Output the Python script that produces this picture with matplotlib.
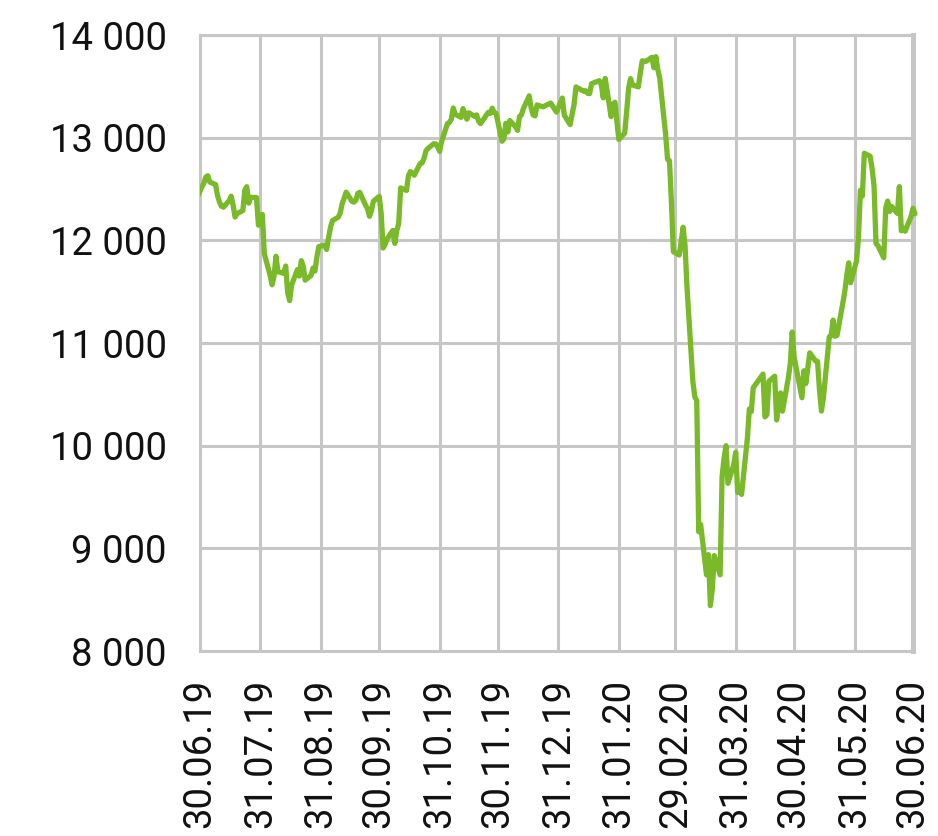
import matplotlib
matplotlib.use("Agg")
import matplotlib.pyplot as plt
import matplotlib.dates as mdates
import matplotlib.transforms as mtransforms
import pandas as pd

# ---- data (index closes) ----
jun19 = [12399]
jul19 = [12521, 12558, 12616, 12629, 12568, 12543, 12436, 12373, 12332, 12323,
         12387, 12430, 12341, 12227, 12260, 12290, 12490, 12522, 12362, 12419,
         12417, 12147, 12189]
aug19 = [12253, 11872, 11658, 11567, 11650, 11845, 11694, 11679, 11750, 11492,
         11412, 11563, 11715, 11652, 11802, 11747, 11612, 11658, 11730, 11701,
         11838, 11939]
sep19 = [11953, 11911, 12025, 12127, 12192, 12226, 12268, 12359, 12410, 12469,
         12380, 12372, 12389, 12457, 12468, 12342, 12307, 12234, 12288, 12381,
         12428]
oct19 = [12263, 11925, 11960, 12012, 12097, 11970, 12094, 12164, 12511, 12486,
         12630, 12670, 12654, 12634, 12748, 12754, 12798, 12872, 12895, 12941,
         12939, 12910, 12867]
nov19 = [12961, 13136, 13148, 13179, 13289, 13228, 13198, 13283, 13230, 13180,
         13242, 13207, 13221, 13159, 13137, 13164, 13247, 13237, 13287, 13245,
         13236]
dec19 = [12965, 12989, 13140, 13055, 13167, 13106, 13071, 13206, 13222, 13283,
         13407, 13288, 13222, 13212, 13319, 13300, 13337, 13249]
jan20 = [13386, 13219, 13127, 13227, 13320, 13495, 13483, 13452, 13457, 13432,
         13429, 13526, 13548, 13555, 13515, 13388, 13577, 13205, 13324, 13345,
         13158, 12982]
feb20 = [13045, 13250, 13479, 13575, 13514, 13494, 13627, 13749, 13745, 13744,
         13783, 13681, 13789, 13665, 13579, 13035, 12790, 12774, 12367, 11890]
mar20 = [11857, 11985, 12128, 11944, 11542, 10625, 10475, 10439, 9161, 9232,
         8742, 8939, 8442, 8610, 8929, 8742, 9701, 9874, 10000, 9633,
         9816, 9936]
apr20 = [9544, 9571, 9525, 10075, 10357, 10332, 10565, 10697, 10280, 10302,
         10626, 10676, 10250, 10416, 10514, 10336, 10659, 10796, 11107, 10862]
may20 = [10467, 10730, 10606, 10759, 10904, 10825, 10820, 10542, 10337, 10465,
         11058, 11075, 11223, 11066, 11074, 11391, 11505, 11657, 11781, 11587]
jun20 = [11800, 12021, 12487, 12431, 12848, 12819, 12700, 12530, 11970, 11949,
         11830, 12315, 12382, 12281, 12331, 12262, 12523, 12093, 12120, 12089,
         12232, 12311]
jul20 = [12260]

closed_days = ['2019-12-24', '2019-12-25', '2019-12-26', '2019-12-31',
               '2020-01-01', '2020-04-10', '2020-04-13', '2020-05-01']

tick_dates = ['2019-06-30', '2019-07-31', '2019-08-31', '2019-09-30',
              '2019-10-31', '2019-11-30', '2019-12-31', '2020-01-31',
              '2020-02-29', '2020-03-31', '2020-04-30', '2020-05-31',
              '2020-06-30']
y_ticks = [8000, 9000, 10000, 11000, 12000, 13000, 14000]

values = (jun19 + jul19 + aug19 + sep19 + oct19 + nov19 + dec19 + jan20 +
          feb20 + mar20 + apr20 + may20 + jun20 + jul20)
days = pd.bdate_range('2019-06-28', '2020-07-01')
days = days[~days.isin(pd.to_datetime(closed_days))]
n = min(len(days), len(values))
days = days[:n]
values = values[:n]

# ---- style ----
FONT = ['Roboto', 'DejaVu Sans']
plt.rcParams['font.family'] = FONT
GRID = '#c6c6c6'
GREEN = '#7ab929'
TXT = '#111111'

W, H = 938, 836
fig = plt.figure(figsize=(W / 100, H / 100), dpi=100)
ax = fig.add_axes([200 / W, 1 - 651 / H, 713 / W, 616 / H])

line, = ax.plot(days, values, color=GREEN, lw=3.8, solid_joinstyle='round',
                solid_capstyle='round', zorder=3)
# allow the line to run a little past the right border (as in the reference)
line.set_clip_box(mtransforms.TransformedBbox(
    mtransforms.Bbox([[0, -0.05], [1.01, 1.05]]), ax.transAxes))

tdates = pd.to_datetime(tick_dates)
ax.set_xlim(tdates[0], tdates[-1])
ax.set_ylim(8000, 14000)
ax.set_yticks(y_ticks)
ax.set_yticklabels([f"{v:,}".replace(",", " ") for v in y_ticks])
ax.set_xticks(tdates)
ax.set_xticklabels([])

ax.grid(True, color=GRID, lw=2.2)
ax.set_axisbelow(True)
for s in ['left', 'bottom', 'top']:
    ax.spines[s].set_color(GRID)
    ax.spines[s].set_linewidth(2.2)
ax.spines['right'].set_color(GRID)
ax.spines['right'].set_linewidth(3.6)

ax.tick_params(axis='both', length=0)
ax.tick_params(axis='y', labelsize=27.5, pad=24, labelcolor=TXT)

trans = mtransforms.blended_transform_factory(ax.transData, fig.transFigure)
for d in tdates:
    ax.text(mdates.date2num(d), 8 / H, d.strftime('%d.%m.%y'), transform=trans,
            rotation=90, ha='center', va='bottom', fontsize=27.5,
            color=TXT, clip_on=False)

fig.savefig('out.png', dpi=100)
